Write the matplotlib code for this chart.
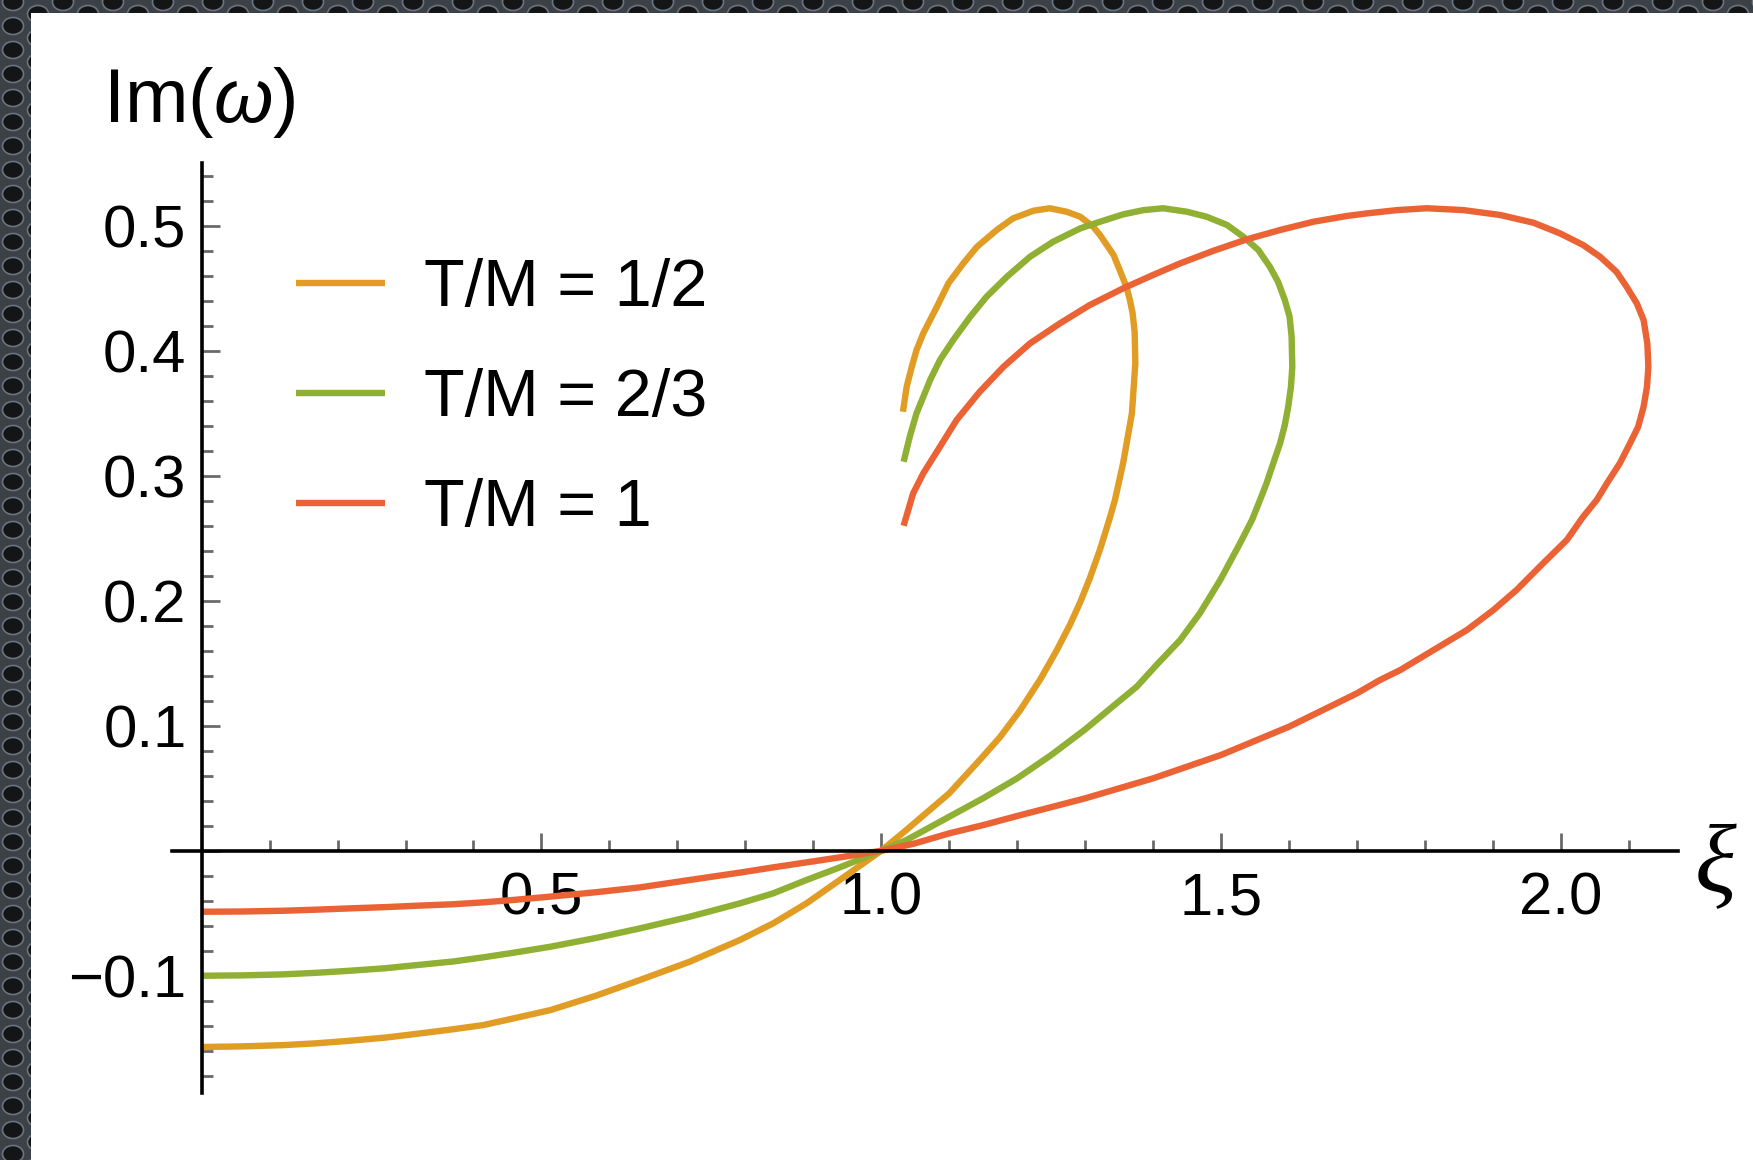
import matplotlib.pyplot as plt
import numpy as np
from matplotlib.patches import Ellipse

# curves: xi along the branch, Im(omega)
xi_half = [0.0, 0.06, 0.12, 0.17, 0.218, 0.27, 0.316, 0.37, 0.414, 0.46, 0.513, 0.58, 0.645,
           0.718, 0.792, 0.841, 0.89, 0.939, 1.0, 1.037, 1.1, 1.145, 1.175, 1.204,
           1.234, 1.258, 1.278, 1.293, 1.307, 1.322, 1.337, 1.344, 1.356, 1.369, 1.374, 1.373,
           1.370, 1.366, 1.361, 1.351, 1.342, 1.322, 1.312, 1.293, 1.273, 1.248, 1.224, 1.194,
           1.170, 1.141, 1.121, 1.099, 1.082, 1.062, 1.052, 1.045, 1.0375, 1.032]
im_half = [-0.157, -0.1565, -0.1555, -0.154, -0.152, -0.1495, -0.1465, -0.1428, -0.1395, -0.134,
           -0.1275, -0.116, -0.1034, -0.0888, -0.0714, -0.0581, -0.0421, -0.0234, 0.0, 0.0166,
           0.0459, 0.0726, 0.091, 0.112, 0.137, 0.16, 0.181, 0.199, 0.218, 0.241,
           0.2672, 0.2806, 0.31, 0.35, 0.39, 0.415, 0.43, 0.4406, 0.451, 0.4646, 0.4766, 0.4926,
           0.4992, 0.5072, 0.5112, 0.514, 0.512, 0.5059, 0.4966, 0.4832, 0.47, 0.454, 0.4352,
           0.414, 0.4006, 0.3872, 0.3712, 0.3512]

xi_23 = [0.0, 0.06, 0.12, 0.17, 0.218, 0.27, 0.316, 0.37, 0.414, 0.46, 0.513, 0.58, 0.645,
         0.718, 0.792, 0.841, 0.89, 0.939, 1.0, 1.037, 1.1, 1.15, 1.2, 1.25, 1.3, 1.342,
         1.376, 1.405, 1.440, 1.469, 1.499, 1.528, 1.546, 1.5575, 1.567, 1.577, 1.587, 1.594,
         1.599, 1.603, 1.605, 1.604, 1.601, 1.594, 1.584, 1.572, 1.555, 1.533, 1.509, 1.479,
         1.450, 1.415, 1.386, 1.356, 1.322, 1.293, 1.253, 1.219, 1.185, 1.155, 1.131, 1.106,
         1.0865, 1.072, 1.062, 1.052, 1.042, 1.033]
im_23 = [-0.1, -0.0997, -0.0989, -0.0976, -0.096, -0.094, -0.0915, -0.0886, -0.0853, -0.0815,
         -0.0768, -0.0698, -0.0621, -0.0528, -0.0421, -0.0341, -0.0234, -0.0133, 0.0, 0.0085,
         0.0272, 0.042, 0.0579, 0.0765, 0.097, 0.116, 0.1312, 0.1485, 0.1686, 0.19, 0.2166,
         0.2459, 0.265, 0.2806, 0.2939, 0.31, 0.3259, 0.3406, 0.3552, 0.3712, 0.3872, 0.4112,
         0.4272, 0.4406, 0.4552, 0.4672, 0.4806, 0.4912, 0.5006, 0.5072, 0.5112, 0.514, 0.5125,
         0.5091, 0.5032, 0.4979, 0.4872, 0.4752, 0.4592, 0.4432, 0.4272, 0.4086, 0.3926, 0.3766,
         0.3632, 0.35, 0.3312, 0.3112]

xi_1 = [0.0, 0.06, 0.12, 0.17, 0.218, 0.27, 0.316, 0.37, 0.414, 0.46, 0.513, 0.58, 0.645, 0.718,
        0.792, 0.841, 0.89, 0.939, 1.0, 1.047, 1.1, 1.15, 1.2, 1.3, 1.4, 1.5, 1.6, 1.7, 1.734,
        1.764, 1.813, 1.862, 1.901, 1.935, 1.974, 2.009, 2.033, 2.053,
        2.068, 2.087, 2.102, 2.114, 2.122, 2.127, 2.129, 2.1275, 2.122, 2.112, 2.097, 2.082,
        2.058, 2.033, 1.999, 1.960, 1.911, 1.857, 1.803, 1.759, 1.715, 1.685, 1.636, 1.587,
        1.538, 1.489, 1.44, 1.400, 1.356, 1.307, 1.263, 1.219, 1.18, 1.145, 1.111, 1.0865,
        1.062, 1.047, 1.033]
im_1 = [-0.0488, -0.0486, -0.048, -0.0471, -0.0461, -0.0451, -0.044, -0.0428, -0.0413, -0.0393,
        -0.0367, -0.0332, -0.0293, -0.0234, -0.0175, -0.0133, -0.0093, -0.0053, 0.0, 0.0055,
        0.0139, 0.0205, 0.0278, 0.0419, 0.0579, 0.0766, 0.0992, 0.1259, 0.1366,
        0.1446, 0.1606, 0.1766, 0.1926, 0.2086, 0.2299, 0.2486, 0.2672, 0.2806, 0.2939,
        0.31, 0.3259, 0.3392, 0.3552, 0.3712, 0.3872, 0.4059, 0.4246, 0.4379, 0.4512, 0.4632,
        0.4752, 0.4846, 0.4939, 0.5024, 0.5086, 0.5125, 0.514, 0.5125, 0.5099, 0.5078, 0.5032,
        0.4966, 0.4891, 0.48, 0.4699, 0.4606, 0.4499, 0.4366, 0.4219, 0.4059, 0.3872, 0.3672,
        0.3446, 0.3232, 0.302, 0.2859, 0.26]

labels = ["T/M = 1/2", "T/M = 2/3", "T/M = 1"]
colors = ["#E19C24", "#8FB032", "#EB6235"]

xticks = [0.5, 1.0, 1.5, 2.0]
xticklabels = ["0.5", "1.0", "1.5", "2.0"]
yticks = [-0.1, 0.0, 0.1, 0.2, 0.3, 0.4, 0.5]
yticklabels = ["\u22120.1", "", "0.1", "0.2", "0.3", "0.4", "0.5"]


def main():
    plt.rcParams['font.family'] = ['Liberation Sans', 'DejaVu Sans']
    plt.rcParams['mathtext.fontset'] = 'custom'
    plt.rcParams['mathtext.rm'] = 'Liberation Sans'
    plt.rcParams['mathtext.it'] = 'Liberation Sans:italic'

    W, H = 1753, 1160
    fig = plt.figure(figsize=(W / 100, H / 100), dpi=100, facecolor="#3b4147")

    # perforated metal border (left and top strips)
    for i in range(-1, W // 25 + 2):
        for j in range(-1, H // 24 + 2):
            x = i * 25 + 13
            y = j * 24 + (12 if i % 2 else 0) + 2
            if x < 45 or y < 25:
                e = Ellipse((x / W, 1 - y / H), 21 / W, 17 / H, transform=fig.transFigure,
                            facecolor="#141516", edgecolor="#6b757d", linewidth=1.2, zorder=-1)
                fig.patches.append(e)

    ax = fig.add_axes([31 / W, 0, (W - 31) / W, (H - 13) / H])
    ax.set_facecolor("white")
    ax.set_xlim(-0.2512, 2.2830)
    ax.set_ylim(-0.2474, 0.6702)

    lines = []
    for xs, ys, c in zip([xi_half, xi_23, xi_1], [im_half, im_23, im_1], colors):
        ln, = ax.plot(xs, ys, color=c, lw=4.6, solid_capstyle='butt', solid_joinstyle='round')
        lines.append(ln)

    for s in ['top', 'right']:
        ax.spines[s].set_visible(False)
    ax.spines['left'].set_position(('data', 0))
    ax.spines['bottom'].set_position(('data', 0))
    ax.spines['left'].set_bounds(-0.194, 0.55)
    ax.spines['bottom'].set_bounds(-0.044, 2.173)
    for s in ['left', 'bottom']:
        ax.spines[s].set_linewidth(2.6)
        ax.spines[s].set_color("black")

    ax.set_xticks(xticks, xticklabels)
    ax.set_xticks([t for t in np.arange(1, 22) / 10 if round(t * 10) % 5], minor=True)
    ax.set_yticks(yticks, yticklabels)
    ax.set_yticks([t for t in np.arange(-9, 28) * 0.02 if round(t * 50) % 5], minor=True)

    ax.tick_params(which='both', direction='in', color="#6a6a6a", width=2.0, labelsize=43)
    ax.tick_params(which='major', length=13)
    ax.tick_params(which='minor', length=8)
    ax.tick_params(axis='x', pad=15)
    ax.tick_params(axis='y', pad=11)

    fig.text(103 / W, 1 - 122 / H, r"Im($\omega$)", fontsize=55, ha='left', va='baseline')
    fig.text(1715 / W, 1 - 869 / H, "\u03be", fontsize=70, family='Liberation Serif',
             style='italic', ha='center', va='center')

    ax.legend(lines, labels, loc='center left', bbox_to_anchor=(296 / W, 1 - 399 / H),
              bbox_transform=fig.transFigure, frameon=False, fontsize=48, handlelength=1.34,
              handletextpad=0.58, labelspacing=0.72, borderpad=0, borderaxespad=0)

    fig.savefig("out.png", dpi=100, facecolor=fig.get_facecolor())
    plt.close()


main()
